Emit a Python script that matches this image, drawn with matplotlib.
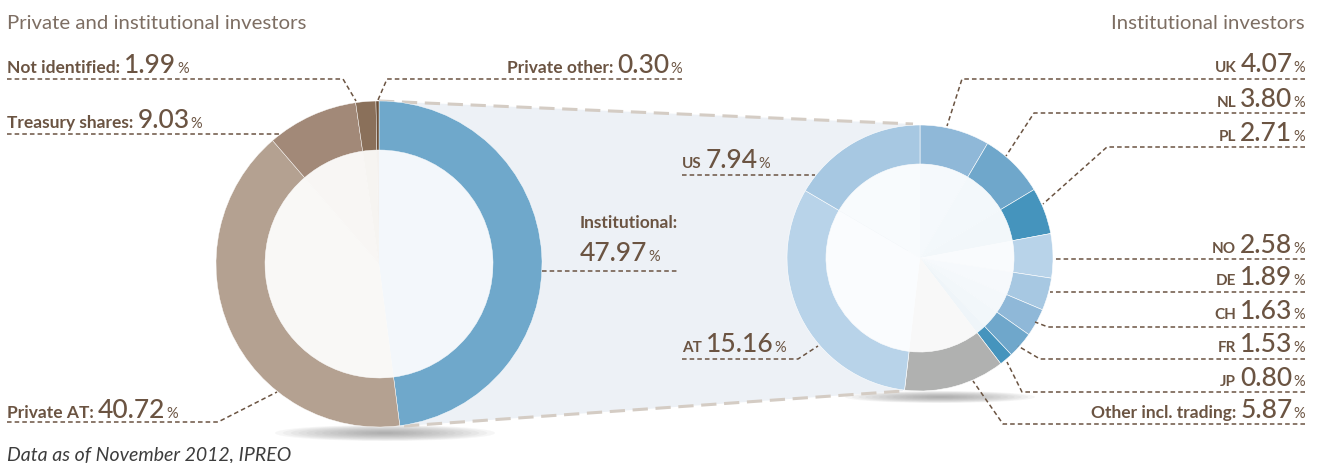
import numpy as np
import matplotlib.pyplot as plt
from matplotlib.patches import Polygon, Ellipse

plt.rcParams['font.family'] = ['Lato', 'DejaVu Sans']

W, H = 1318, 464

# shareholder structure (left ring), clockwise from 12 o'clock
holder_labels = ["Institutional:", "Private AT:", "Treasury shares:", "Not identified:", "Private other:"]
holder_values = [47.97, 40.72, 9.03, 1.99, 0.30]
holder_colors = ["#6fa8cb", "#b4a191", "#a28978", "#8a705a", "#6a4f38"]
holder_inner = ["#f3f7fb", "#f9f8f6", "#f8f6f4", "#f6f4f1", "#f4f1ee"]

# institutional investors by country (right ring), clockwise from 12 o'clock
country_labels = ["UK", "NL", "PL", "NO", "DE", "CH", "FR", "JP", "Other incl. trading:", "AT", "US"]
country_values = [4.07, 3.80, 2.71, 2.58, 1.89, 1.63, 1.53, 0.80, 5.87, 15.16, 7.94]
country_colors = ["#8fb8d8", "#6fa7cb", "#4594bd", "#b8d3e9", "#a7c8e2", "#8fb8d8",
                  "#6fa7cb", "#4594bd", "#b0b1b0", "#b8d3e9", "#a7c8e2"]
country_inner = ["#f5f9fc", "#f3f8fb", "#f2f7fa", "#f9fbfd", "#f6f9fc", "#f4f8fb",
                 "#f2f7fa", "#eff5f9", "#f8f8f8", "#fafcfe", "#f8fbfd"]

BROWN = "#6b5442"
GREY = "#7d6e63"

fig = plt.figure(figsize=(W / 100, H / 100), dpi=100)
ax = fig.add_axes([0, 0, 1, 1])
ax.set_xlim(0, W)
ax.set_ylim(H, 0)
ax.axis('off')
renderer = fig.canvas.get_renderer()

# rings (y axis is flipped, so counterclock=True reads clockwise)
LC, LR, LW = (379, 265), 163, 49
RC, RR, RW = (920, 259), 133, 39


def shadow(cx, cy, w, h):
    for k in range(14):
        f = 1 - k / 14
        ax.add_patch(Ellipse((cx, cy), w * f, h * f, color="#8a8a8a", alpha=0.07, lw=0, zorder=0.3))


shadow(385, 434, 220, 16)
shadow(940, 398, 190, 12)

# connecting band
band = [(LC[0], LC[1] - LR), (913, 125), (903, 392), (404, 427)]
ax.add_patch(Polygon(band, closed=True, color="#edf1f6", lw=0, zorder=0.5))
for a, b in [(band[0], band[1]), (band[3], band[2])]:
    ax.plot([a[0], b[0]], [a[1], b[1]], color="#d4ccc4", lw=2.2, ls=(0, (5, 2.5)),
            solid_capstyle='butt', zorder=0.6)

ax.pie(holder_values, colors=holder_inner, radius=LR - LW, center=LC, startangle=-90,
       counterclock=True, frame=True, wedgeprops=dict(lw=0))
ax.pie(holder_values, colors=holder_colors, radius=LR, center=LC, startangle=-90,
       counterclock=True, frame=True, wedgeprops=dict(width=LW, edgecolor='white', lw=0.3))
ax.pie(country_values, colors=country_inner, radius=RR - RW, center=RC, startangle=-90,
       counterclock=True, frame=True, wedgeprops=dict(lw=0))
ax.pie(country_values, colors=country_colors, radius=RR, center=RC, startangle=-90,
       counterclock=True, frame=True, wedgeprops=dict(width=RW, edgecolor='white', lw=0.4))


def label(x, y, parts, ha='left', gaps=(4, 1)):
    texts = []
    for s, size, weight in parts:
        texts.append(ax.text(0, y, s, fontsize=size, fontweight=weight, color=BROWN,
                             va='baseline', ha='left'))
    widths = [t.get_window_extent(renderer).width for t in texts]
    g = list(gaps[-len(widths) + 1:]) + [0] if len(widths) > 1 else [0]
    total = sum(widths) + sum(g)
    cur = x if ha == 'left' else x - total
    for t, w, gg in zip(texts, widths, g):
        t.set_x(cur)
        cur += w + gg


def leader(xs, ys):
    ax.plot(xs, ys, color=BROWN, lw=1.1, ls=(0, (3, 2)), zorder=3)


def pct(v):
    return "%.2f" % v


WS, NS, PS, CS = 12.5, 19, 10.5, 11
NW = 'medium'

# titles and footnote
ax.text(7, 29, "Private and institutional investors", fontsize=14.7, color=GREY, va='baseline')
ax.text(1305, 29, "Institutional investors", fontsize=14.7, color=GREY, va='baseline', ha='right')
ax.text(7, 460, "Data as of November 2012, IPREO", fontsize=14, color="#3d3d3d",
        style='italic', va='baseline')

# left ring labels
left_pos = {
    "Not identified:": (7, 73, 'left', [7, 343, 356], [80, 80, 102]),
    "Treasury shares:": (7, 128, 'left', [7, 280], [135, 135]),
    "Private AT:": (7, 418, 'left', [7, 218, 277], [423, 423, 393]),
    "Private other:": (682, 73, 'right', [682, 387, 378], [80, 80, 101]),
}
for name, v in zip(holder_labels, holder_values):
    if name in left_pos:
        x, y, ha, lx, ly = left_pos[name]
        label(x, y, [(name, WS, 'bold'), (pct(v), NS, NW), ("%", PS, 'normal')], ha=ha)
        leader(lx, ly)

# institutional share in the middle
ax.text(580, 228, holder_labels[0], fontsize=WS, fontweight='bold', color=BROWN, va='baseline')
label(580, 261, [(pct(holder_values[0]), NS, NW), ("%", PS, 'normal')])
leader([542, 678], [272, 272])

# right ring labels
right_pos = {
    "US": (682, 168, 'left', [682, 815], [176, 176]),
    "AT": (682, 352, 'left', [682, 798, 818], [360, 360, 347]),
    "UK": (1305, 72, 'right', [1305, 962, 947], [80, 80, 127]),
    "NL": (1305, 107, 'right', [1305, 1034, 1006], [114, 114, 157]),
    "PL": (1305, 141, 'right', [1305, 1107, 1043], [148, 148, 205]),
    "NO": (1305, 253, 'right', [1305, 1054], [260, 260]),
    "DE": (1305, 285, 'right', [1305, 1050], [293, 293]),
    "CH": (1305, 319, 'right', [1305, 1048, 1035], [328, 328, 323]),
    "FR": (1305, 352, 'right', [1305, 1040, 1018], [360, 360, 347]),
    "JP": (1305, 386, 'right', [1305, 1022, 1007], [393, 393, 363]),
    "Other incl. trading:": (1305, 418, 'right', [1305, 1003, 973], [425, 425, 382]),
}
for name, v in zip(country_labels, country_values):
    x, y, ha, lx, ly = right_pos[name]
    size = WS if name.startswith("Other") else CS
    label(x, y, [(name, size, 'bold'), (pct(v), NS, NW), ("%", PS, 'normal')], ha=ha)
    leader(lx, ly)

ax.set_xlim(0, W)
ax.set_ylim(H, 0)
fig.savefig("out.png", dpi=100, facecolor='white')
